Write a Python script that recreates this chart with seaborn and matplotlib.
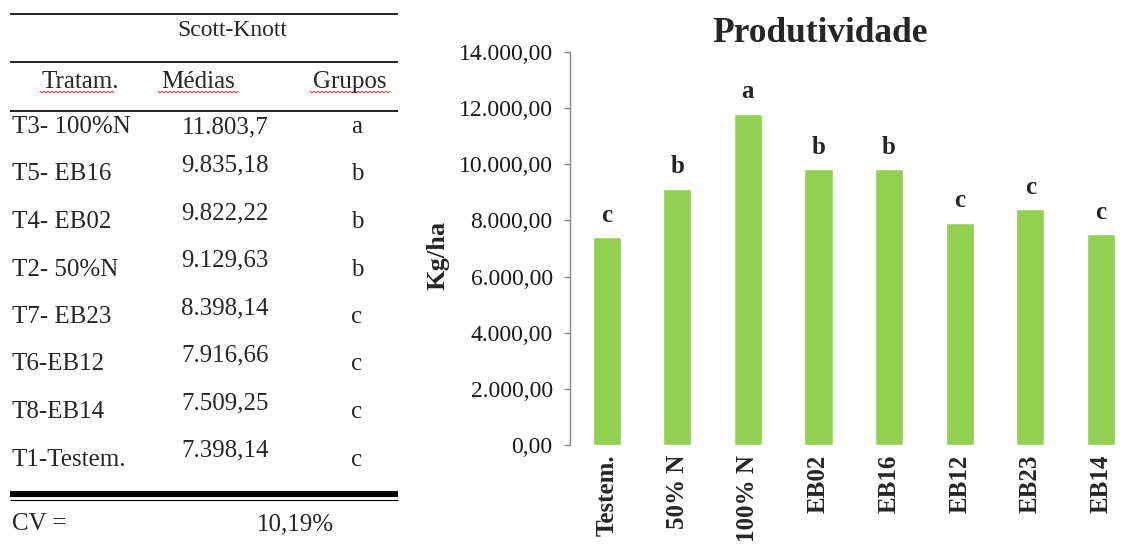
import numpy as np
import matplotlib
matplotlib.use("Agg")
import matplotlib.pyplot as plt
from matplotlib.ticker import FuncFormatter
import seaborn as sns

# table (Scott-Knott)
tratam = ["T3- 100%N", "T5- EB16", "T4- EB02", "T2- 50%N",
          "T7- EB23", "T6-EB12", "T8-EB14", "T1-Testem."]
medias = ["11.803,7", "9.835,18", "9.822,22", "9.129,63",
          "8.398,14", "7.916,66", "7.509,25", "7.398,14"]
grupos = ["a", "b", "b", "b", "c", "c", "c", "c"]
cv_text = "10,19%"

# bar chart
categorias = ["Testem.", "50% N", "100% N", "EB02", "EB16", "EB12", "EB23", "EB14"]
produtividade = [7398.14, 9129.63, 11803.7, 9822.22, 9835.18, 7916.66, 8398.14, 7509.25]
letras = ["c", "b", "a", "b", "b", "c", "c", "c"]

sns.set_style("white")
plt.rcParams['font.family'] = ['Liberation Serif', 'DejaVu Serif']

W, H = 1127, 551
fig = plt.figure(figsize=(W / 100, H / 100), dpi=100)

# ---- table drawn in pixel coords on an overlay axes ----
tab = fig.add_axes([0, 0, 1, 1])
tab.set_xlim(0, W)
tab.set_ylim(H, 0)
tab.axis("off")

x0, x1 = 10, 398
for y, lw in [(14, 1.2), (62, 1.2), (111, 1.2), (494, 4.4), (500, 0.8)]:
    tab.plot([x0, x1], [y, y], color="black", lw=lw, solid_capstyle="butt")

fs = 18
tab.text(232, 30, "Scott-Knott", ha="center", va="center", fontsize=17)
headers = [("Tratam.", 80, 40, 114), ("Médias", 198, 158, 238), ("Grupos", 350, 310, 390)]
for txt, xc, xa, xb in headers:
    tab.text(xc, 88, txt, ha="center", va="baseline", fontsize=fs)
    # spell-check squiggle
    xs = np.arange(xa, xb + 1, 2)
    ys = 92 + np.where(np.arange(len(xs)) % 2 == 0, -0.8, 0.8)
    tab.plot(xs, ys, color="#e03030", lw=0.7)

for i, (n, m, g) in enumerate(zip(tratam, medias, grupos)):
    yb = 133 + 47.5 * i
    tab.text(12, yb, n, ha="left", va="baseline", fontsize=fs)
    tab.text(225, yb - (0 if i == 0 else 9), m, ha="center", va="baseline", fontsize=fs)
    tab.text(357, yb, g, ha="center", va="baseline", fontsize=fs)

tab.text(12, 530, "CV =", ha="left", va="baseline", fontsize=fs)
tab.text(295, 530, cv_text, ha="center", va="baseline", fontsize=fs)

# ---- bar chart ----
ax = fig.add_axes([570 / W, 1 - 445 / H, (W - 570) / W, (445 - 52) / H])
sns.barplot(x=categorias, y=produtividade, color="#92D050", saturation=1,
            width=0.4, ax=ax)
ax.set_xlim(-0.52, 7.37)
ax.set_ylim(0, 14000)
ax.set_yticks(np.arange(0, 14001, 2000))
ax.yaxis.set_major_formatter(FuncFormatter(
    lambda v, p: f"{v:,.2f}".replace(",", "X").replace(".", ",").replace("X", ".")))

for s in ["top", "right", "bottom"]:
    ax.spines[s].set_visible(False)
ax.spines["left"].set_color("#888888")
ax.spines["left"].set_linewidth(1.0)
ax.tick_params(axis="y", direction="out", length=4.5, width=1.0, color="#888888",
               pad=8, labelsize=17, labelcolor="#1a1a1a", left=True)
ax.tick_params(axis="x", length=0, pad=7)
for lab in ax.get_xticklabels():
    lab.set_rotation(90)
    lab.set_fontweight("bold")
    lab.set_fontsize(18)
    lab.set_va("top")
    lab.set_ha("center")

for i, (v, l) in enumerate(zip(produtividade, letras)):
    ax.annotate(l, xy=(i, v), xytext=(0, 11), textcoords="offset points",
                ha="center", va="baseline", fontsize=18, fontweight="bold")

ax.set_xlabel("")
ax.set_ylabel("Kg/ha", fontsize=19, fontweight="bold")
ax.yaxis.set_label_coords(-0.217, 0.483)
ax.text(0.449, 1.048, "Produtividade", transform=ax.transAxes, ha="center",
        va="center", fontsize=25.5, fontweight="bold")

fig.savefig("out.png", dpi=100)
